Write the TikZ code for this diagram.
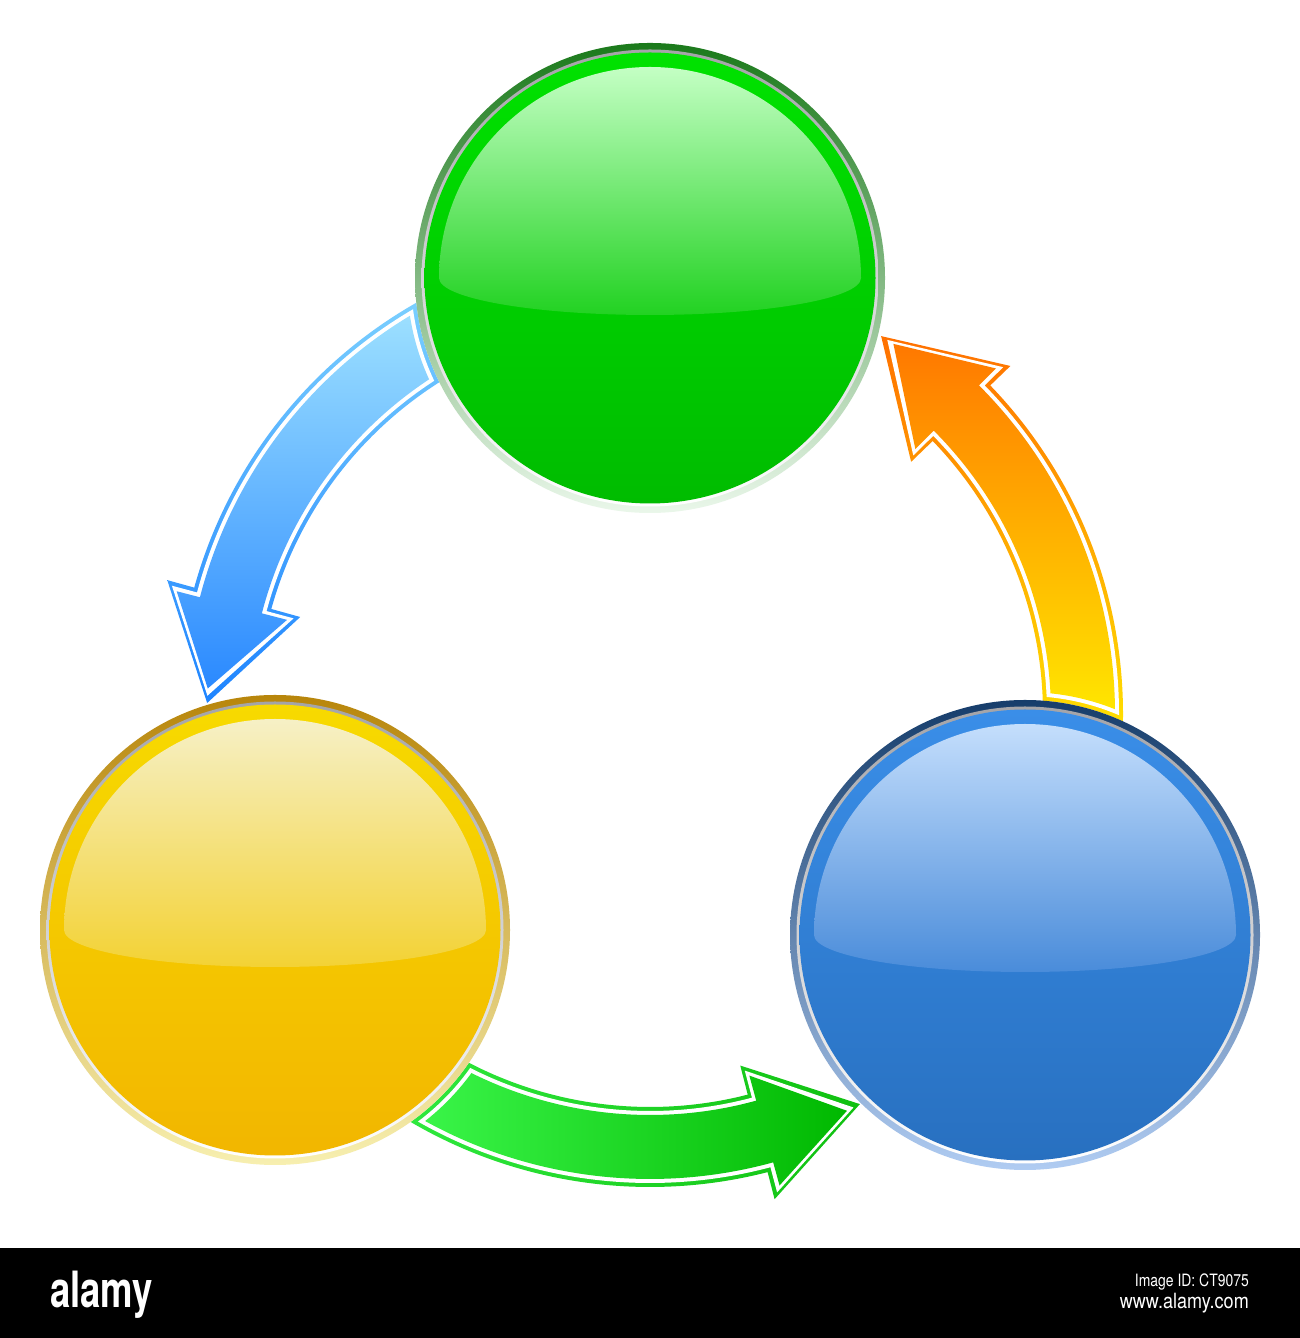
\documentclass[tikz,border=0pt]{standalone}
\usepackage{fontspec}
\setmainfont{TeX Gyre Heros}
\usetikzlibrary{calc}
% arrow colours
\definecolor{bArrFillT}{HTML}{A6E7FF}\definecolor{bArrFillB}{HTML}{2A89FF}
\definecolor{bArrLineT}{HTML}{80D4FF}\definecolor{bArrLineB}{HTML}{1E84FF}
\definecolor{oArrFillT}{HTML}{FF7800}\definecolor{oArrFillM}{HTML}{FFB000}\definecolor{oArrFillB}{HTML}{FFFA00}
\definecolor{oArrLineT}{HTML}{FF7000}\definecolor{oArrLineB}{HTML}{FFEE00}
\definecolor{gArrFillL}{HTML}{44FF55}\definecolor{gArrFillR}{HTML}{00B800}
\definecolor{gArrLineL}{HTML}{33EE44}\definecolor{gArrLineR}{HTML}{10C010}
% orb colours
\definecolor{orbGrayT}{HTML}{A4A4A8}
\definecolor{grnRingT}{HTML}{1B7A1B}\definecolor{grnRingB}{HTML}{EAF7EA}
\definecolor{grnBodyT}{HTML}{00E200}\definecolor{grnBodyB}{HTML}{00BC00}
\definecolor{grnHiT}{HTML}{C4FFC4}\definecolor{grnHiB}{HTML}{22D222}
\definecolor{ylwRingT}{HTML}{B8860B}\definecolor{ylwRingB}{HTML}{F7EFB0}
\definecolor{ylwBodyT}{HTML}{F7DA00}\definecolor{ylwBodyB}{HTML}{F2B600}
\definecolor{ylwHiT}{HTML}{F6F0C6}\definecolor{ylwHiB}{HTML}{F3D234}
\definecolor{bluRingT}{HTML}{163D6B}\definecolor{bluRingB}{HTML}{B0CCF2}
\definecolor{bluBodyT}{HTML}{3A8EE8}\definecolor{bluBodyB}{HTML}{2870C0}
\definecolor{bluHiT}{HTML}{C4DEFC}\definecolor{bluHiB}{HTML}{4A8CDA}

% curved arrow shape around the common centre; #1 offset, #2 tail angle, #3 head base angle, #4 tip angle, #5 options
\newcommand{\ArrShape}[5]{%
  \pgfmathsetmacro{\AAro}{465+#1}%
  \pgfmathsetmacro{\AAri}{401-#1}%
  \pgfmathsetmacro{\AAwo}{489+1.5*#1}%
  \pgfmathsetmacro{\AAwi}{375-1.5*#1}%
  \pgfmathsetmacro{\AAhb}{#3-#1*0.12}%
  \pgfmathsetmacro{\AAtp}{#4+#1*0.235}%
  \path[#5] (#2:\AAro) arc[start angle=#2, end angle=\AAhb, radius=\AAro]
     -- (\AAhb:\AAwo) -- (\AAtp:443) -- (\AAhb:\AAwi) -- (\AAhb:\AAri)
     arc[start angle=\AAhb, end angle=#2, radius=\AAri] -- cycle;}
% one layer, clipped away from the orb it starts under (#2)
\newcommand{\ArrLayer}[6]{%
  \begin{scope}[even odd rule]
    \clip (0,0) -- (0,1338) -- (1300,1338) -- (1300,0) -- cycle
          (#2) circle[radius=243-#1];
    \begin{scope}[shift={(arcC)}]
      \ArrShape{#1}{#3}{#4}{#5}{#6}
    \end{scope}
  \end{scope}}
% glossy orb
\newcommand{\Orb}[2]{%
  \shade[top color=#2RingT, bottom color=#2RingB] (#1) circle[radius=235];
  \shade[top color=orbGrayT, bottom color=white] (#1) circle[radius=228.5];
  \shade[top color=#2BodyT, bottom color=#2BodyB] (#1) circle[radius=225.5];
  \shade[top color=#2HiT, bottom color=#2HiB] ($(#1)+(-211,0)$)
     arc[start angle=180, end angle=0, radius=211]
     arc[start angle=0, end angle=-180, x radius=211, y radius=37] -- cycle;}

\begin{document}
\begin{tikzpicture}[x=1pt,y=1pt,line join=miter]
\useasboundingbox (0,0) rectangle (1300,1338);
\fill[white] (0,0) rectangle (1300,1338);

\coordinate (arcC) at (650,624);
\coordinate (G) at (650,1060);
\coordinate (Y) at (275,408);
\coordinate (B) at (1025,403);

% blue arrow: green orb -> yellow orb
\ArrLayer{8}{G}{112}{165.46}{176.7}{top color=bArrLineT, bottom color=bArrLineB}
\ArrLayer{4}{G}{112}{165.46}{176.7}{fill=white}
\ArrLayer{0}{G}{112}{165.46}{176.7}{top color=bArrFillT, bottom color=bArrFillB}

% green arrow: yellow orb -> blue orb
\ArrLayer{8}{Y}{-130}{-74.64}{-63.6}{left color=gArrLineL, right color=gArrLineR}
\ArrLayer{4}{Y}{-130}{-74.64}{-63.6}{fill=white}
\ArrLayer{0}{Y}{-130}{-74.64}{-63.6}{left color=gArrFillL, right color=gArrFillR}

% orange arrow: blue orb -> green orb
\ArrLayer{8}{B}{-8}{44.96}{56.67}{top color=oArrLineT, bottom color=oArrLineB}
\ArrLayer{4}{B}{-8}{44.96}{56.67}{fill=white}
\ArrLayer{0}{B}{-8}{44.96}{56.67}{top color=oArrFillT, middle color=oArrFillM, bottom color=oArrFillB}

% orbs
\Orb{G}{grn}
\Orb{Y}{ylw}
\Orb{B}{blu}

% bottom bar
\fill[black] (0,0) rectangle (1300,90);
\node[anchor=base west, text=white, inner sep=0] (logo) at (50,30)
  {\scalebox{0.73}[1]{\fontsize{50}{50}\selectfont\bfseries alamy}};
\node[anchor=base east, text=white, inner sep=0] (imgid) at (1249,51)
  {\scalebox{0.82}[1]{\fontsize{17}{17}\selectfont Image ID: CT9075}};
\node[anchor=base east, text=white, inner sep=0] (www) at (1249,29)
  {\scalebox{0.86}[1]{\fontsize{21}{21}\selectfont www.alamy.com}};
\end{tikzpicture}
\end{document}
